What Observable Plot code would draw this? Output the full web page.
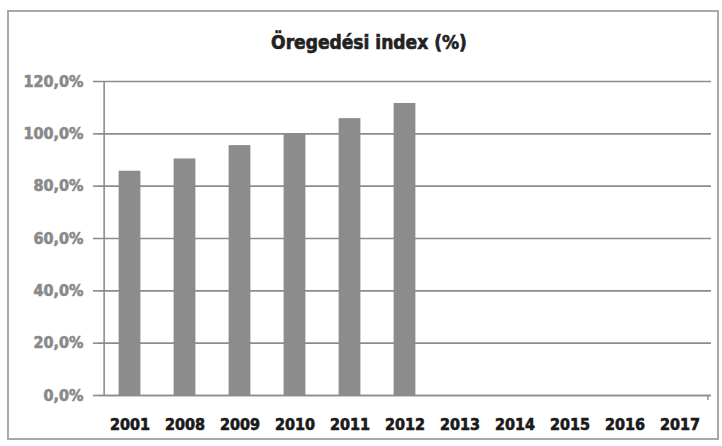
<!DOCTYPE html>
<html>
<head>
<meta charset="utf-8">
<script src="https://cdn.jsdelivr.net/npm/d3@7"></script>
<script src="https://cdn.jsdelivr.net/npm/@observablehq/plot@0.6"></script>
<style>
  html, body { margin: 0; padding: 0; background: #fff; }
  body { width: 722px; height: 446px; position: relative; overflow: hidden; font-family: "DejaVu Sans Condensed", "DejaVu Sans", sans-serif; }
  #frame { position: absolute; left: 7px; top: 10px; width: 712px; height: 430px; border: 2px solid #a8a8a8; box-sizing: border-box; pointer-events: none; }
  #title { position: absolute; left: 0; top: 0; width: 722px; height: 70px; }
  #title div { position: absolute; left: 0; width: 738px; top: 31px; text-align: center; font-weight: bold; font-size: 19px; color: #222; line-height: 22px; -webkit-text-stroke: 0.6px #222; }
  #chart { position: absolute; left: 0; top: 70px; }
  #chart svg [aria-label="y-axis tick label"] text { stroke: #8a8a8a; stroke-width: 0.6px; }
  #chart svg [aria-label="x-axis tick label"] text { stroke: #1a1a1a; stroke-width: 0.6px; }
</style>
</head>
<body>
<div id="title"><div>Öregedési index (%)</div></div>
<div id="chart"></div>
<div id="frame"></div>
<script>
const years = ["2001", "2008", "2009", "2010", "2011", "2012", "2013", "2014", "2015", "2016", "2017"];
const values = [85.7, 90.4, 95.5, 99.8, 105.8, 111.6, null, null, null, null, null];
const yTicks = [0, 20, 40, 60, 80, 100, 120];

const data = years.map((year, i) => ({ year, value: values[i] })).filter(d => d.value != null);

const W = 722, H = 376;
const mL = 98, mR = 11, mT = 11, mB = 51;
const step = (W - mL - mR) / years.length;
const barW = 22.5;
const inset = (step - barW) / 2;
const fmt = d => d.toFixed(1).replace(".", ",") + "%";
const grey = "#8c8c8c";

const plot = Plot.plot({
  width: W,
  height: H,
  marginLeft: mL,
  marginRight: mR,
  marginTop: mT,
  marginBottom: mB,
  style: { fontFamily: '"DejaVu Sans Condensed", "DejaVu Sans", sans-serif', background: "transparent", overflow: "visible" },
  x: { domain: years, padding: 0, label: null },
  y: { domain: [0, 120], label: null },
  marks: [
    Plot.gridY(yTicks, { stroke: grey, strokeOpacity: 1, strokeWidth: 1.6 }),
    Plot.barY(data, { x: "year", y: "value", fill: grey, insetLeft: inset, insetRight: inset }),
    Plot.ruleY([0], { stroke: grey, strokeWidth: 1.6 }),
    Plot.ruleX(years, { x: "year", dx: -step / 2, y1: 0, y2: -1.9, stroke: grey, strokeWidth: 1.4 }),
    Plot.ruleX(years.slice(-1), { x: d => d, dx: step / 2, y1: 0, y2: -1.9, stroke: grey, strokeWidth: 1.4 }),
    Plot.axisY(yTicks, { tickFormat: fmt, tickSize: 5, tickPadding: 10, fontSize: 16, fontWeight: "bold", fill: "#8a8a8a", stroke: grey, strokeWidth: 1.6 }),
    Plot.ruleX([years[0]], { x: d => d, dx: -step / 2 + 2, stroke: grey, strokeWidth: 1.6 }),
    Plot.axisX(years, { tickSize: 0, tickPadding: 23, fontSize: 16, fontWeight: "bold", fill: "#1a1a1a" })
  ]
});
document.getElementById("chart").appendChild(plot);
</script>
</body>
</html>
